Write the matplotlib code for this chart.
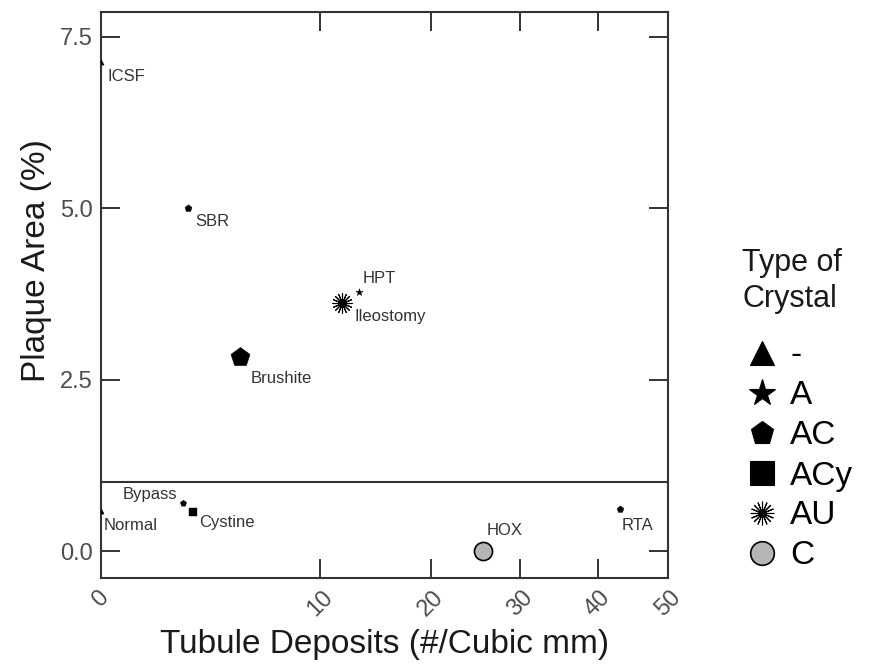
import numpy as np
import matplotlib as mpl
mpl.use('Agg')
import matplotlib.pyplot as plt
from matplotlib.lines import Line2D

plt.rcParams['font.family'] = ['Liberation Sans', 'DejaVu Sans']

# data
names = ['ICSF', 'SBR', 'HPT', 'Ileostomy', 'Brushite', 'Bypass', 'Cystine', 'Normal', 'HOX', 'RTA']
deposits = [0.0, 2.1, 13.2, 11.7, 4.6, 1.9, 2.3, 0.0, 25.6, 43.0]
plaque = [7.13, 5.0, 3.78, 3.62, 2.83, 0.70, 0.57, 0.58, 0.0, 0.61]
crystal = ['-', 'AC', 'A', 'AU', 'AC', 'AC', 'ACy', '-', 'C', 'AC']
sizes = [14, 28, 30, 190, 210, 22, 30, 14, 170, 26]

crystal_types = ['-', 'A', 'AC', 'ACy', 'AU', 'C']
markers = {'-': '^', 'A': '*', 'AC': 'p', 'ACy': 's', 'AU': (16, 2, 0), 'C': 'o'}
fills = {'-': 'black', 'A': 'black', 'AC': 'black', 'ACy': 'black', 'AU': 'black', 'C': '#b5b5b5'}

# label offsets in pixels (dx, dy) and alignment
offsets = {'ICSF': (7, -14, 'left'), 'SBR': (7, -13, 'left'), 'HPT': (3, 13, 'left'),
           'Ileostomy': (13, -14, 'left'), 'Brushite': (11, -21, 'left'),
           'Bypass': (-6, 9, 'right'), 'Cystine': (6, -11, 'left'), 'Normal': (3, -14, 'left'),
           'HOX': (4, 21, 'left'), 'RTA': (2, -16, 'left')}

p = 0.59
fwd = lambda v: np.sign(v) * np.abs(v) ** p
inv = lambda v: np.sign(v) * np.abs(v) ** (1.0 / p)

fig = plt.figure(figsize=(8.75, 6.65), dpi=100)
ax = fig.add_axes([0.1154, 0.1308, 0.648, 0.851])
ax.set_xscale('function', functions=(fwd, inv))

for k in range(len(names)):
    c = crystal[k]
    ax.scatter(deposits[k], plaque[k], s=sizes[k], marker=markers[c], c=fills[c],
               edgecolors='black' if c != 'AU' else None,
               linewidths=1.2 if c == 'C' else (0.8 if c == 'AU' else 0.3), zorder=3)
    dx, dy, ha = offsets[names[k]]
    ax.annotate(names[k], (deposits[k], plaque[k]), xytext=(dx * 0.72, dy * 0.72),
                textcoords='offset points', ha=ha, va='center', fontsize=12, color='#333333')

ax.axhline(1.0, color='#333333', lw=1.5, zorder=2)

ax.set_xlim(0, 50)
ax.set_ylim(-0.394, 7.863)
ax.set_xticks([0, 10, 20, 30, 40, 50])
ax.set_yticks([0, 2.5, 5.0, 7.5])
ax.set_yticklabels(['0.0', '2.5', '5.0', '7.5'])
ax.tick_params(direction='in', length=14, width=1.4, color='#333333', labelsize=17,
               labelcolor='#4d4d4d', top=True, right=True, pad=6)
plt.setp(ax.get_xticklabels(), rotation=45, ha='center', va='top')
for s in ax.spines.values():
    s.set_color('#333333')
    s.set_linewidth(1.5)

ax.set_xlabel('Tubule Deposits (#/Cubic mm)', fontsize=24, color='#1a1a1a', labelpad=6)
ax.set_ylabel('Plaque Area (%)', fontsize=24, color='#1a1a1a')
ax.yaxis.set_label_coords(-0.086, 0.561)

# legend title as separate text so the gap to the entries matches
fig.text(742 / 875, 1 - 281 / 665, 'Type of\nCrystal', fontsize=22, color='#1a1a1a',
         ha='left', va='center', linespacing=1.25)

handles = [Line2D([], [], ls='', marker=markers[c], markerfacecolor=fills[c],
                  markeredgecolor='black', markeredgewidth=1.2 if c == 'C' else 0.8,
                  markersize=17 if c != 'A' else 20) for c in crystal_types]
lgd = fig.legend(handles, crystal_types, loc='center left',
                 bbox_to_anchor=(745 / 875, 1 - 456 / 665), frameon=False, fontsize=24,
                 handlelength=1.0, handletextpad=0.36, labelspacing=0.27,
                 borderpad=0, borderaxespad=0)

fig.savefig('out.png', dpi=100)
